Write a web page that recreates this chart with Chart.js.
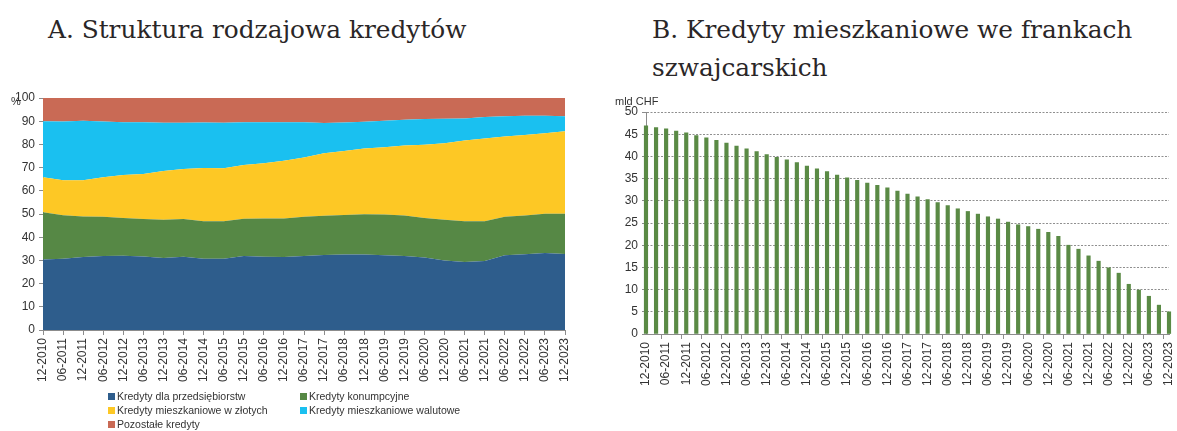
<!DOCTYPE html>
<html>
<head>
<meta charset="utf-8">
<script src="https://cdn.jsdelivr.net/npm/chart.js@4"></script>
<style>
body { margin: 0; width: 1177px; height: 431px; background: #fff; position: relative; overflow: hidden; font-family: "Liberation Sans", Arial, sans-serif; }
.tytul { position: absolute; font-family: "DejaVu Serif", serif; font-size: 24.8px; color: #2a2627; line-height: 38px; white-space: nowrap; }
.jedn { position: absolute; font-size: 11px; color: #333; }
.box { position: absolute; top: 0; }
#legenda { position: absolute; left: 108px; top: 390px; font-size: 10.5px; color: #333; }
#legenda .poz { position: absolute; white-space: nowrap; }
#legenda .kw { display: inline-block; width: 7px; height: 7px; margin-right: 2px; }
</style>
</head>
<body>
<div class="tytul" style="left:48px;top:11px">A. Struktura rodzajowa kredytów</div>
<div class="tytul" style="left:652px;top:11px">B. Kredyty mieszkaniowe we frankach<br>szwajcarskich</div>

<div class="box" style="left:0;width:580px;height:400px"><canvas id="wykresA" width="580" height="400"></canvas></div>
<div class="box" style="left:600px;width:577px;height:400px"><canvas id="wykresB" width="577" height="400"></canvas></div>

<div class="jedn" style="left:11px;top:95px">%</div>
<div class="jedn" style="left:615px;top:95px">mld CHF</div>
<div id="legenda"></div>

<script>
// panel A - udzialy w %, co pol roku
const polrocza = ['12-2010','06-2011','12-2011','06-2012','12-2012','06-2013','12-2013','06-2014','12-2014',
    '06-2015','12-2015','06-2016','12-2016','06-2017','12-2017','06-2018','12-2018','06-2019','12-2019',
    '06-2020','12-2020','06-2021','12-2021','06-2022','12-2022','06-2023','12-2023']

const przedsiebiorstwa = [30.4,30.7,31.5,31.9,32.0,31.7,31.0,31.6,30.7,30.7,31.9,31.6,31.5,31.9,32.3,32.5,32.5,32.2,31.9,31.2,30.0,29.3,29.7,32.2,32.6,33.2,32.8]
const konsumpcyjne = [20.4,18.8,17.4,16.9,16.3,16.1,16.5,16.2,16.2,16.2,16.0,16.5,16.6,16.9,16.9,17.1,17.4,17.6,17.5,17.1,17.5,17.6,17.2,16.6,16.8,16.9,17.3]
const mieszkPLN = [15.0,15.1,15.7,17.0,18.5,19.4,21.0,21.6,22.9,22.8,23.2,23.8,24.8,25.5,27.0,27.6,28.3,29.0,30.1,31.6,33.0,34.8,35.6,34.6,34.7,34.7,35.6]
const mieszkWalutowe = [24.2,25.3,25.6,24.1,22.8,22.4,20.8,19.9,19.6,19.6,18.5,17.7,16.7,15.2,13.0,12.2,11.6,11.4,11.1,11.0,10.6,9.5,9.3,8.7,8.3,7.6,6.4]
const pozostale = [10.0,10.1,9.8,10.1,10.4,10.4,10.7,10.7,10.6,10.7,10.4,10.4,10.4,10.5,10.8,10.6,10.2,9.8,9.4,9.1,8.9,8.8,8.2,7.9,7.6,7.6,7.9]

// panel B - kredyty w CHF, kwartalnie
const kwartaly = ['12-2010','03-2011','06-2011','09-2011','12-2011','03-2012','06-2012','09-2012','12-2012',
    '03-2013','06-2013','09-2013','12-2013','03-2014','06-2014','09-2014','12-2014','03-2015','06-2015',
    '09-2015','12-2015','03-2016','06-2016','09-2016','12-2016','03-2017','06-2017','09-2017','12-2017',
    '03-2018','06-2018','09-2018','12-2018','03-2019','06-2019','09-2019','12-2019','03-2020','06-2020',
    '09-2020','12-2020','03-2021','06-2021','09-2021','12-2021','03-2022','06-2022','09-2022','12-2022',
    '03-2023','06-2023','09-2023','12-2023']
const kredytyCHF = [46.9,46.5,46.2,45.7,45.3,44.7,44.2,43.6,43.0,42.3,41.7,41.1,40.4,39.8,39.2,38.6,37.8,37.2,36.6,
    35.8,35.2,34.6,34.0,33.5,32.9,32.2,31.5,30.9,30.3,29.6,28.9,28.2,27.6,27.0,26.4,25.9,25.2,24.6,24.2,
    23.6,22.9,22.0,20.0,19.1,17.6,16.4,14.9,13.7,11.2,9.9,8.5,6.5,5.0]

const serie = [
    {label: 'Kredyty dla przedsiębiorstw', data: przedsiebiorstwa, color: '#2e5d8c'},
    {label: 'Kredyty konumpcyjne', data: konsumpcyjne, color: '#568845'},
    {label: 'Kredyty mieszkaniowe w złotych', data: mieszkPLN, color: '#fdc825'},
    {label: 'Kredyty mieszkaniowe walutowe', data: mieszkWalutowe, color: '#1ac0f0'},
    {label: 'Pozostałe kredyty', data: pozostale, color: '#c96a55'}
]

const tickFont = {family: 'Liberation Sans', size: 12}
const axisColor = '#8c8c8c'

Chart.defaults.font.family = 'Liberation Sans'
Chart.defaults.color = '#333'

// os x: stala wysokosc i bez dodatkowego marginesu na obrocone etykiety
function fitX(h) {
    return s => { s.height = h; s.paddingLeft = 0; s.paddingRight = 0 }
}

let datasetsA = []
serie.forEach((s, i) => datasetsA.push({
    label: s.label,
    data: s.data,
    backgroundColor: s.color,
    borderWidth: 0,
    pointRadius: 0,
    fill: i == 0 ? 'origin' : '-1'
}))

new Chart(document.getElementById('wykresA'), {
    type: 'line',
    data: {labels: polrocza, datasets: datasetsA},
    options: {
        responsive: false,
        animation: false,
        devicePixelRatio: 1,
        layout: {padding: {top: 98, right: 15, left: 0, bottom: 0}},
        scales: {
            x: {
                offset: false,
                afterFit: fitX(70),
                ticks: {font: tickFont, color: '#333', autoSkip: false, minRotation: 90, maxRotation: 90, padding: 3},
                grid: {drawOnChartArea: false, tickLength: 5, color: axisColor},
                border: {color: axisColor}
            },
            y: {
                stacked: true,
                min: 0,
                max: 100,
                afterFit: s => { s.width = 43; s.paddingTop = 0; s.paddingBottom = 0 },
                ticks: {font: tickFont, color: '#333', stepSize: 10, padding: 4},
                grid: {drawOnChartArea: false, tickLength: 4, color: axisColor},
                border: {color: axisColor}
            }
        },
        plugins: {legend: {display: false}, tooltip: {enabled: false}}
    }
})

new Chart(document.getElementById('wykresB'), {
    type: 'bar',
    data: {
        labels: kwartaly,
        datasets: [{
            label: 'mld CHF',
            data: kredytyCHF,
            backgroundColor: '#5a8a45',
            barThickness: 3.5,
            clip: false
        }]
    },
    options: {
        responsive: false,
        animation: false,
        devicePixelRatio: 1,
        layout: {padding: {top: 112, right: 8, left: 0, bottom: 0}},
        scales: {
            x: {
                offset: false,
                afterFit: fitX(66),
                ticks: {
                    font: tickFont, color: '#333', autoSkip: false, minRotation: 90, maxRotation: 90, padding: 3,
                    callback: function(v, i) { return i % 2 == 0 ? this.getLabelForValue(v) : '' }
                },
                grid: {
                    drawOnChartArea: false, tickLength: 5,
                    tickColor: c => c.index % 2 == 0 ? axisColor : 'rgba(0,0,0,0)'
                },
                border: {color: axisColor}
            },
            y: {
                min: 0,
                max: 50,
                afterFit: s => { s.width = 46; s.paddingTop = 0; s.paddingBottom = 0 },
                ticks: {font: tickFont, color: '#333', stepSize: 5, padding: 4},
                grid: {color: '#8f8f8f', tickColor: axisColor, tickLength: 4},
                border: {color: axisColor, dash: [2, 1.5]}
            }
        },
        plugins: {legend: {display: false}, tooltip: {enabled: false}}
    }
})

// legenda w dwoch kolumnach jak w oryginale
const legendPos = [[0, 0], [192, 0], [0, 14], [192, 14], [0, 28]]
const leg = document.getElementById('legenda')
serie.forEach((s, i) => {
    let d = document.createElement('div')
    d.className = 'poz'
    d.style.left = legendPos[i][0] + 'px'
    d.style.top = legendPos[i][1] + 'px'
    d.innerHTML = '<span class="kw" style="background:' + s.color + '"></span>' + s.label
    leg.appendChild(d)
})
</script>
</body>
</html>
